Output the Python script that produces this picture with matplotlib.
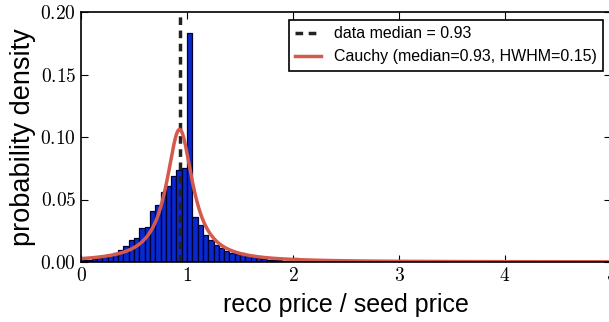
import numpy as np
import matplotlib
matplotlib.use("Agg")
import matplotlib.pyplot as plt
from matplotlib.ticker import FuncFormatter

# histogram of reco price / seed price, bin width 0.05 from 0 to 5 (fraction per bin)
bin_edges = np.linspace(0, 5, 101)
bin_heights = [
    0.0020, 0.0020, 0.0025, 0.0030, 0.0040, 0.0055, 0.0075, 0.0095, 0.0127, 0.0175,
    0.0196, 0.0270, 0.0280, 0.0410, 0.0460, 0.0560, 0.0610, 0.0690, 0.0740, 0.0755,
    0.1830, 0.0360, 0.0296, 0.0220, 0.0176, 0.0140, 0.0110, 0.0090, 0.0075, 0.0064,
    0.0075, 0.0048, 0.0037, 0.0032, 0.0025, 0.0020, 0.0018, 0.0015, 0.0012, 0.0010,
    0.0030, 0.0008, 0.0007, 0.0006, 0.0006, 0.0005, 0.0005, 0.0004, 0.0004, 0.0004,
    0.0003, 0.0003, 0.0003, 0.0003, 0.0003, 0.0002, 0.0002, 0.0002, 0.0002, 0.0002,
    0.0002, 0.0002, 0.0002, 0.0001, 0.0001, 0.0001, 0.0001, 0.0001, 0.0001, 0.0001,
    0.0001, 0.0001, 0.0001, 0.0001, 0.0001, 0.0001, 0.0001, 0.0001, 0.0001, 0.0001,
    0.0001, 0.0001, 0.0001, 0.0001, 0.0001, 0.0001, 0.0001, 0.0001, 0.0001, 0.0001,
    0.0001, 0.0001, 0.0001, 0.0001, 0.0001, 0.0001, 0.0001, 0.0001, 0.0001, 0.0001,
]

data_median = 0.93
cauchy_median = 0.93
cauchy_hwhm = 0.15
bin_width = 0.05

plt.rcParams['mathtext.fontset'] = 'cm'
plt.rcParams['font.family'] = ['Liberation Sans', 'DejaVu Sans']

fig = plt.figure(figsize=(6.09, 3.22), dpi=100)
ax = fig.add_axes([81 / 609, 60 / 322, 530 / 609, 250 / 322])

ax.bar(bin_edges[:-1], bin_heights, width=bin_width, align='edge',
       color='#0a28cc', edgecolor='#000030', linewidth=0.9)

ax.axvline(data_median, color='#222222', linestyle=(0, (2.2, 1.6)), linewidth=2.5,
           label='data median = %.2f' % data_median)

# Cauchy pdf scaled to fraction per bin
xs = np.linspace(0, 5, 1000)
pdf = 1.0 / (np.pi * cauchy_hwhm * (1 + ((xs - cauchy_median) / cauchy_hwhm) ** 2))
ax.plot(xs, pdf * bin_width, color='#d35a4c', linewidth=2.5,
        label='Cauchy (median=%.2f, HWHM=%.2f)' % (cauchy_median, cauchy_hwhm))

ax.set_xlim(0, 5)
ax.set_ylim(0, 0.2)
ax.set_xticks([0, 1, 2, 3, 4, 5])
ax.set_yticks([0, 0.05, 0.10, 0.15, 0.20])
ax.xaxis.set_major_formatter(FuncFormatter(lambda v, p: r'$%d$' % v))
ax.yaxis.set_major_formatter(FuncFormatter(lambda v, p: r'$%.2f$' % v))
ax.tick_params(direction='in', top=True, right=True, labelsize=14, length=5, width=0.8)
for s in ax.spines.values():
    s.set_linewidth(1.2)

ax.set_xlabel('reco price / seed price', fontsize=18, labelpad=6)
ax.set_ylabel('probability density', fontsize=19.5, labelpad=3)

leg = ax.legend(loc='upper right', fontsize=11.5, fancybox=False, framealpha=1,
                edgecolor='black', handlelength=1.6, borderaxespad=0.5)
leg.get_frame().set_linewidth(1.2)

fig.savefig('out.png', dpi=100)
